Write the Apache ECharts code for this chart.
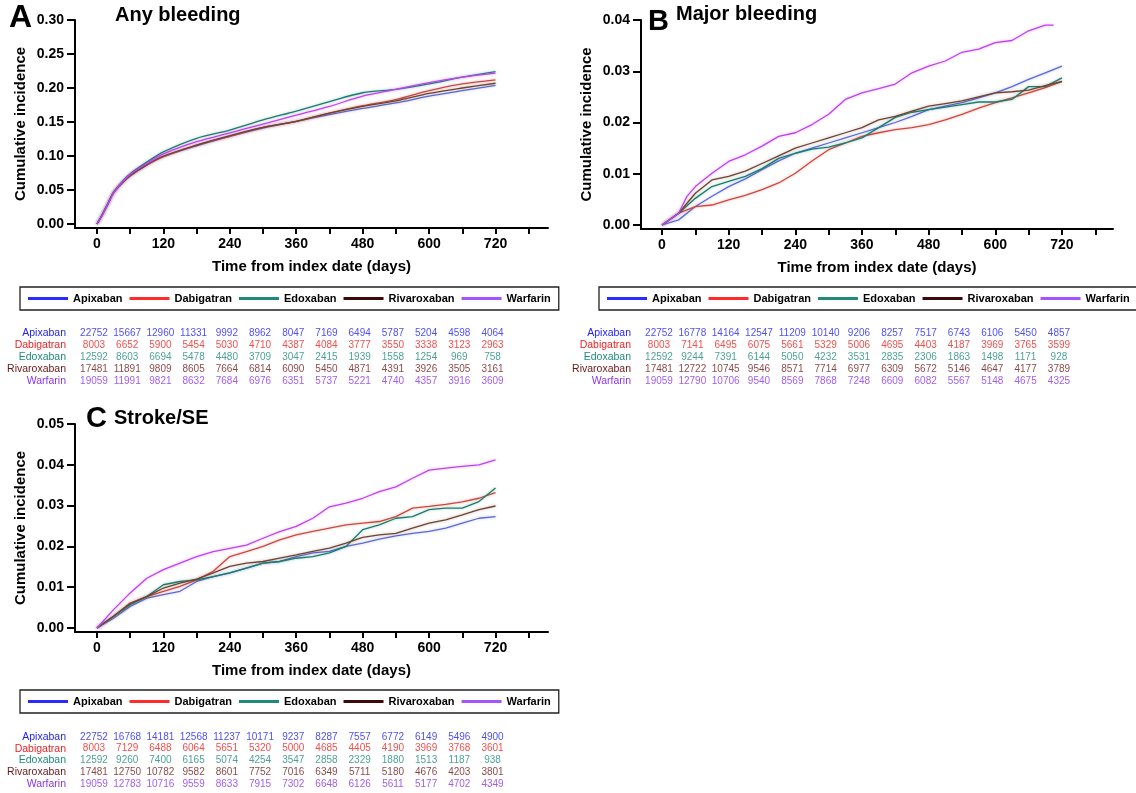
<!DOCTYPE html>
<html>
<head>
<meta charset="utf-8">
<script src="https://cdn.jsdelivr.net/npm/echarts@6/dist/echarts.min.js"></script>
<style>html,body{margin:0;padding:0;background:#fff}#c{width:1136px;height:793px}</style>
</head>
<body>
<div id="c"></div>
<script>
const FONT = 'Liberation Sans, Arial, Helvetica, sans-serif';
const drugs = ['Apixaban', 'Dabigatran', 'Edoxaban', 'Rivaroxaban', 'Warfarin'];
const plotColors = ['#5c6ad6', '#d2453c', '#1a7d6c', '#6e4430', '#c040f5'];
const legendColors = ['#2b2bff', '#ff2a2a', '#1f8a7c', '#3c0808', '#a555ff'];
const tableColors = ['#2222ee', '#ee2222', '#1f8a7c', '#6b1616', '#8a35e8'];

const xTickDays = [0, 60, 120, 180, 240, 300, 360, 420, 480, 540, 600, 660, 720, 780];
const xLabelDays = [0, 120, 240, 360, 480, 600, 720];
const yTicksA = [0, 0.05, 0.10, 0.15, 0.20, 0.25, 0.30];
const yTicksB = [0, 0.01, 0.02, 0.03, 0.04];
const yTicksC = [0, 0.01, 0.02, 0.03, 0.04, 0.05];
const atRiskDays = [0, 60, 120, 180, 240, 300, 360, 420, 480, 540, 600, 660, 720];

// Panel A: Any bleeding
const daysA = [0, 10, 20, 30, 45, 60, 90, 120, 180, 240, 300, 360, 420, 480, 540, 600, 660, 720];
const aApixaban = [0, 0.014, 0.030, 0.046, 0.060, 0.071, 0.087, 0.099, 0.115, 0.129, 0.141, 0.151, 0.161, 0.170, 0.178, 0.188, 0.196, 0.204];
const aDabigatran = [0, 0.014, 0.030, 0.046, 0.060, 0.071, 0.087, 0.099, 0.116, 0.129, 0.142, 0.151, 0.163, 0.174, 0.183, 0.196, 0.206, 0.212];
const aEdoxaban = [0, 0.015, 0.031, 0.047, 0.062, 0.074, 0.091, 0.106, 0.126, 0.138, 0.153, 0.166, 0.180, 0.193, 0.198, 0.206, 0.216, 0.224];
const aRivaroxaban = [0, 0.014, 0.030, 0.046, 0.060, 0.071, 0.087, 0.100, 0.116, 0.130, 0.142, 0.151, 0.163, 0.173, 0.181, 0.192, 0.200, 0.207];
const aWarfarin = [0, 0.014, 0.030, 0.046, 0.061, 0.073, 0.089, 0.103, 0.121, 0.134, 0.147, 0.160, 0.173, 0.188, 0.198, 0.208, 0.216, 0.222];

// Panel B: Major bleeding
const daysB = [0, 30, 60, 90, 120, 150, 180, 210, 240, 270, 300, 330, 360, 390, 420, 450, 480, 510, 540, 570, 600, 630, 660, 690, 720];
const bApixaban = [0, 0.0010, 0.0036, 0.0056, 0.0075, 0.0090, 0.0108, 0.0125, 0.0140, 0.0150, 0.0160, 0.0170, 0.0180, 0.0190, 0.0200, 0.0212, 0.0225, 0.0232, 0.0239, 0.0248, 0.0258, 0.0270, 0.0284, 0.0297, 0.0310];
const bDabigatran = [0, 0.0023, 0.0036, 0.0039, 0.0049, 0.0058, 0.0069, 0.0082, 0.0101, 0.0125, 0.0147, 0.0160, 0.0173, 0.0180, 0.0186, 0.0190, 0.0196, 0.0205, 0.0216, 0.0228, 0.0239, 0.0248, 0.0258, 0.0268, 0.0280];
const bEdoxaban = [0, 0.0023, 0.0052, 0.0075, 0.0085, 0.0095, 0.0110, 0.0130, 0.0140, 0.0148, 0.0152, 0.0160, 0.0170, 0.0190, 0.0210, 0.0220, 0.0225, 0.0230, 0.0235, 0.0240, 0.0240, 0.0245, 0.0270, 0.0270, 0.0287];
const bRivaroxaban = [0, 0.0023, 0.0062, 0.0088, 0.0095, 0.0105, 0.0120, 0.0135, 0.0150, 0.0160, 0.0170, 0.0180, 0.0190, 0.0205, 0.0212, 0.0222, 0.0232, 0.0237, 0.0242, 0.0250, 0.0258, 0.0260, 0.0263, 0.0272, 0.0280];
const daysBWarfarin = [0, 30, 45, 60, 90, 120, 150, 180, 210, 240, 270, 300, 330, 360, 390, 420, 450, 480, 510, 540, 570, 600, 630, 660, 690, 705];
const bWarfarin = [0, 0.0023, 0.0056, 0.0075, 0.0101, 0.0124, 0.0137, 0.0154, 0.0173, 0.0180, 0.0196, 0.0216, 0.0245, 0.0258, 0.0266, 0.0275, 0.0297, 0.0310, 0.0320, 0.0337, 0.0343, 0.0356, 0.0360, 0.0379, 0.0390, 0.0390];

// Panel C: Stroke/SE
const daysC = [0, 30, 60, 90, 120, 150, 180, 210, 240, 270, 300, 330, 360, 390, 420, 450, 480, 510, 540, 570, 600, 630, 660, 690, 720];
const cApixaban = [0, 0.0024, 0.0053, 0.0073, 0.0082, 0.0090, 0.0114, 0.0126, 0.0135, 0.0147, 0.0159, 0.0163, 0.0175, 0.0184, 0.0188, 0.0200, 0.0208, 0.0218, 0.0226, 0.0232, 0.0237, 0.0245, 0.0257, 0.0269, 0.0273];
const cDabigatran = [0, 0.0029, 0.0061, 0.0077, 0.0090, 0.0102, 0.0118, 0.0139, 0.0175, 0.0187, 0.0200, 0.0216, 0.0228, 0.0237, 0.0245, 0.0253, 0.0257, 0.0261, 0.0273, 0.0294, 0.0298, 0.0303, 0.0309, 0.0318, 0.0332];
const cEdoxaban = [0, 0.0029, 0.0057, 0.0077, 0.0106, 0.0114, 0.0118, 0.0126, 0.0135, 0.0147, 0.0159, 0.0163, 0.0171, 0.0175, 0.0184, 0.0200, 0.0241, 0.0253, 0.0269, 0.0273, 0.0290, 0.0294, 0.0294, 0.0310, 0.0343];
const cRivaroxaban = [0, 0.0029, 0.0060, 0.0077, 0.0098, 0.0110, 0.0120, 0.0135, 0.0151, 0.0159, 0.0163, 0.0171, 0.0179, 0.0188, 0.0196, 0.0208, 0.0222, 0.0228, 0.0232, 0.0245, 0.0257, 0.0265, 0.0277, 0.0290, 0.0299];
const cWarfarin = [0, 0.0045, 0.0086, 0.0122, 0.0143, 0.0159, 0.0175, 0.0187, 0.0195, 0.0203, 0.0220, 0.0236, 0.0249, 0.0269, 0.0297, 0.0306, 0.0318, 0.0334, 0.0346, 0.0367, 0.0387, 0.0392, 0.0396, 0.0400, 0.0412];

// Numbers at risk
const riskA = [
  [22752, 15667, 12960, 11331, 9992, 8962, 8047, 7169, 6494, 5787, 5204, 4598, 4064],
  [8003, 6652, 5900, 5454, 5030, 4710, 4387, 4084, 3777, 3550, 3338, 3123, 2963],
  [12592, 8603, 6694, 5478, 4480, 3709, 3047, 2415, 1939, 1558, 1254, 969, 758],
  [17481, 11891, 9809, 8605, 7664, 6814, 6090, 5450, 4871, 4391, 3926, 3505, 3161],
  [19059, 11991, 9821, 8632, 7684, 6976, 6351, 5737, 5221, 4740, 4357, 3916, 3609]
];
const riskB = [
  [22752, 16778, 14164, 12547, 11209, 10140, 9206, 8257, 7517, 6743, 6106, 5450, 4857],
  [8003, 7141, 6495, 6075, 5661, 5329, 5006, 4695, 4403, 4187, 3969, 3765, 3599],
  [12592, 9244, 7391, 6144, 5050, 4232, 3531, 2835, 2306, 1863, 1498, 1171, 928],
  [17481, 12722, 10745, 9546, 8571, 7714, 6977, 6309, 5672, 5146, 4647, 4177, 3789],
  [19059, 12790, 10706, 9540, 8569, 7868, 7248, 6609, 6082, 5567, 5148, 4675, 4325]
];
const riskC = [
  [22752, 16768, 14181, 12568, 11237, 10171, 9237, 8287, 7557, 6772, 6149, 5496, 4900],
  [8003, 7129, 6488, 6064, 5651, 5320, 5000, 4685, 4405, 4190, 3969, 3768, 3601],
  [12592, 9260, 7400, 6165, 5074, 4254, 3547, 2858, 2329, 1880, 1513, 1187, 938],
  [17481, 12750, 10782, 9582, 8601, 7752, 7016, 6349, 5711, 5180, 4676, 4203, 3801],
  [19059, 12783, 10716, 9559, 8633, 7915, 7302, 6648, 6126, 5611, 5177, 4702, 4349]
];

const chart = echarts.init(document.getElementById('c'), null, {renderer: 'canvas'});

const XMIN = -39.7, XMAX = 814.8;
const XMIN_B = -37.8, XMAX_B = 811.9;

function mainX(gi, min, max) {
  return {
    type: 'value', gridIndex: gi, min: min, max: max,
    axisLine: {show: true, onZero: false, lineStyle: {color: '#000', width: 2}},
    axisTick: {show: true, customValues: xTickDays, length: 6, lineStyle: {color: '#000', width: 2}},
    axisLabel: {customValues: xLabelDays, fontSize: 14, fontWeight: 'bold', color: '#000', margin: 9, fontFamily: FONT},
    splitLine: {show: false},
    name: 'Time from index date (days)', nameLocation: 'middle', nameGap: 31,
    nameTextStyle: {fontSize: 15, fontWeight: 'bold', color: '#000', fontFamily: FONT}
  };
}
function mainY(gi, min, max, ticks) {
  return {
    type: 'value', gridIndex: gi, min: min, max: max,
    axisLine: {show: true, onZero: false, lineStyle: {color: '#000', width: 2}},
    axisTick: {show: true, customValues: ticks, length: 8, lineStyle: {color: '#000', width: 2}},
    axisLabel: {customValues: ticks, formatter: v => v.toFixed(2), fontSize: 14, fontWeight: 'bold', color: '#000', margin: 11, fontFamily: FONT},
    splitLine: {show: false},
    name: 'Cumulative incidence', nameLocation: 'middle', nameGap: 47, nameRotate: 90,
    nameTextStyle: {fontSize: 15, fontWeight: 'bold', color: '#000', fontFamily: FONT}
  };
}
function tableX(gi, min, max) {
  return {type: 'value', gridIndex: gi, min: min, max: max, show: false};
}
function tableY(gi, margin) {
  return {
    type: 'category', gridIndex: gi, data: drugs, inverse: true,
    axisLine: {show: false}, axisTick: {show: false}, splitLine: {show: false},
    axisLabel: {interval: 0, margin: margin, fontSize: 10.5, fontFamily: FONT, color: (v, i) => tableColors[drugs.indexOf(v)]}
  };
}
function lineSeries(name, idx, gi, days, vals, smooth) {
  return {
    type: 'line', name: name, xAxisIndex: gi, yAxisIndex: gi, showSymbol: false, symbol: 'none',
    smooth: smooth ? 0.3 : false, silent: true,
    lineStyle: {color: plotColors[idx], width: 1.3, shadowColor: plotColors[idx] + '66', shadowBlur: 3},
    itemStyle: {color: plotColors[idx]},
    data: days.map((d, i) => [d, vals[i]])
  };
}
function tableSeries(gi, risk) {
  const data = [];
  risk.forEach((row, r) => row.forEach((n, c) => data.push({
    value: [atRiskDays[c], drugs[r], n],
    label: {color: tableColors[r]}
  })));
  return {
    type: 'scatter', name: 'At risk', xAxisIndex: gi, yAxisIndex: gi, symbolSize: 1, silent: true,
    itemStyle: {color: 'rgba(0,0,0,0)'},
    label: {show: true, position: 'inside', offset: [-3, 0], formatter: p => String(p.value[2]), fontSize: 10, fontFamily: FONT},
    data: data
  };
}
function mkLegend(left, top) {
  return {
    left: left, top: top, width: 600, orient: 'horizontal', padding: [6, 8, 6, 8],
    borderColor: '#222', borderWidth: 1.3, itemWidth: 40, itemHeight: 3, itemGap: 7, icon: 'rect',
    selectedMode: false,
    textStyle: {fontSize: 11, fontWeight: 'bold', color: '#000', fontFamily: FONT},
    data: drugs.map((d, i) => ({name: d, itemStyle: {color: legendColors[i]}}))
  };
}

const seriesA = [aApixaban, aDabigatran, aEdoxaban, aRivaroxaban, aWarfarin];
const seriesB = [bApixaban, bDabigatran, bEdoxaban, bRivaroxaban, bWarfarin];
const seriesC = [cApixaban, cDabigatran, cEdoxaban, cRivaroxaban, cWarfarin];

const series = [];
drugs.forEach((d, i) => series.push(lineSeries(d, i, 0, daysA, seriesA[i], true)));
drugs.forEach((d, i) => series.push(lineSeries(d, i, 2, i === 4 ? daysBWarfarin : daysB, seriesB[i], false)));
drugs.forEach((d, i) => series.push(lineSeries(d, i, 4, daysC, seriesC[i], false)));
series.push(tableSeries(1, riskA));
series.push(tableSeries(3, riskB));
series.push(tableSeries(5, riskC));

const titleStyle = {fontWeight: 'bold', color: '#000', fontFamily: FONT};
const option = {
  animation: false,
  backgroundColor: '#fff',
  title: [
    {text: 'A', left: 9, top: 2, padding: 0, textStyle: Object.assign({fontSize: 32}, titleStyle)},
    {text: 'Any bleeding', left: 115, top: 5, padding: 0, textStyle: Object.assign({fontSize: 20}, titleStyle)},
    {text: 'B', left: 648, top: 7, padding: 0, textStyle: Object.assign({fontSize: 29}, titleStyle)},
    {text: 'Major bleeding', left: 676, top: 4, padding: 0, textStyle: Object.assign({fontSize: 20}, titleStyle)},
    {text: 'C', left: 86, top: 404, padding: 0, textStyle: Object.assign({fontSize: 29}, titleStyle)},
    {text: 'Stroke/SE', left: 114, top: 408, padding: 0, textStyle: Object.assign({fontSize: 20}, titleStyle)}
  ],
  legend: [mkLegend(20, 287), mkLegend(599, 287), mkLegend(20, 690)],
  grid: [
    {left: 75, top: 20, width: 473, height: 208},
    {left: 75, top: 327, width: 473, height: 60},
    {left: 641, top: 20, width: 472, height: 209},
    {left: 641, top: 327, width: 472, height: 60},
    {left: 75, top: 424, width: 473, height: 208},
    {left: 75, top: 731, width: 473, height: 59}
  ],
  xAxis: [
    mainX(0, XMIN, XMAX), tableX(1, XMIN, XMAX),
    mainX(2, XMIN_B, XMAX_B), tableX(3, XMIN_B, XMAX_B),
    mainX(4, XMIN, XMAX), tableX(5, XMIN, XMAX)
  ],
  yAxis: [
    mainY(0, -0.00588, 0.30, yTicksA), tableY(1, 9),
    mainY(2, -0.00078, 0.04, yTicksB), tableY(3, 10),
    mainY(4, -0.00098, 0.05, yTicksC), tableY(5, 9)
  ],
  series: series
};
chart.setOption(option);
</script>
</body>
</html>
